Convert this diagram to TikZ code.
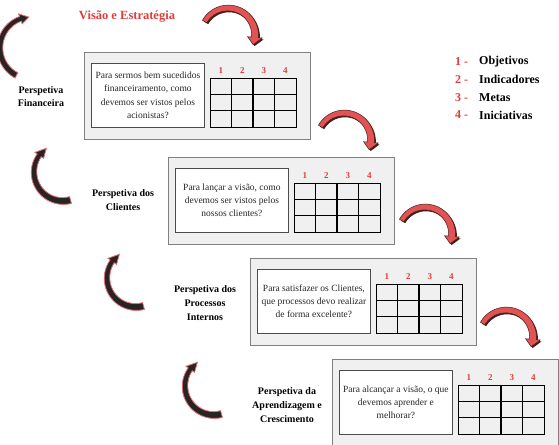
\documentclass[tikz,border=0pt]{standalone}
\usepackage{fontspec}
\setmainfont{Liberation Serif}
\definecolor{panelfill}{RGB}{240,240,240}
\definecolor{panelline}{RGB}{128,128,128}
\definecolor{tred}{RGB}{228,60,60}
\definecolor{arrred}{RGB}{226,84,84}
\definecolor{arrdark}{RGB}{70,30,30}
\definecolor{ldark}{RGB}{40,36,36}
\definecolor{lglow}{RGB}{232,110,120}
\newcommand\curvarrow[9]{%
 \filldraw[#9] plot[domain=#6:#7,samples=40,variable=\t]
   ({#1+(#3+0.5*(#4+(#5-#4)*(\t-(#6))/((#7)-(#6))))*cos(\t)},{#2+(#3+0.5*(#4+(#5-#4)*(\t-(#6))/((#7)-(#6))))*sin(\t)})
   -- ({#1+(#3+1.05*#5)*cos(#7)},{#2+(#3+1.05*#5)*sin(#7)})
   -- ({#1+#3*cos(#8)},{#2+#3*sin(#8)})
   -- ({#1+(#3-1.05*#5)*cos(#7)},{#2+(#3-1.05*#5)*sin(#7)})
   -- plot[domain=#7:#6,samples=40,variable=\t]
   ({#1+(#3-0.5*(#4+(#5-#4)*(\t-(#6))/((#7)-(#6))))*cos(\t)},{#2+(#3-0.5*(#4+(#5-#4)*(\t-(#6))/((#7)-(#6))))*sin(\t)})
   -- cycle;}
\newcommand\rightarrowbsc[2]{%
 \curvarrow{#1}{#2}{27}{5}{7}{-150}{5}{21}{fill=arrdark,draw=none,shift={(1.4,1.4)}}
 \curvarrow{#1}{#2}{27}{5}{7}{-150}{5}{21}{fill=arrred,draw=arrdark,line width=0.5pt}}
\newcommand\bscpanel[4]{%
  \node[panelbox,anchor=north west] (#3) at (#1,#2) {};
  \node[qbox,anchor=north west] (#3q) at (#1+7,#2+11) {};
  \node[qtext] (#3t) at (#3q.center) {#4};
  \node[gridbox,anchor=north west] (#3g) at (#1+126,#2+26) {};
  \foreach \i in {1,2,3} {\draw[gridline] (#1+126+\i*21.5,#2+26) -- ++(0,49);}
  \foreach \j in {1,2} {\draw[gridline] (#1+126,#2+26+\j*16.33) -- ++(86,0);}
  \foreach \i in {1,...,4} {\node[num] (#3n\i) at (#1+126-10.75+\i*21.5,#2+19) {\i};}
}
\begin{document}
\begin{tikzpicture}[x=1pt,y=-1pt,
  panelbox/.style={draw=panelline,fill=panelfill,line width=1pt,minimum width=226pt,minimum height=87pt,inner sep=0},
  qbox/.style={draw=black!70,fill=white,line width=0.8pt,minimum width=113pt,minimum height=64pt,inner sep=0},
  gridbox/.style={draw=black,line width=1.1pt,minimum width=86pt,minimum height=49pt,inner sep=0},
  gridline/.style={draw=black,line width=1.1pt},
  num/.style={text=tred,font=\bfseries\fontsize{9}{10}\selectfont,inner sep=0},
  qtext/.style={font=\fontsize{9.5}{13.3}\selectfont,align=center,text=black!85,inner sep=0},
  persp/.style={font=\bfseries\fontsize{10}{13.8}\selectfont,align=center,inner sep=0},
  legnum/.style={text=tred,font=\bfseries\fontsize{12}{14}\selectfont,inner sep=0,anchor=west},
  legtxt/.style={font=\bfseries\fontsize{12}{14}\selectfont,inner sep=0,anchor=west},
  titlestyle/.style={text=tred,font=\bfseries\fontsize{12.5}{14}\selectfont,inner sep=0},
  leftarr/.style={fill=ldark,draw=lglow,line width=0.8pt}]
\useasboundingbox (0,0) rectangle (559,444);
\fill[white] (0,0) rectangle (559,444);

% title
\node[titlestyle] (title) at (127,17) {Visão e Estratégia};

% legend
\node[legnum] (l1n) at (455,62) {1 -};  \node[legtxt] (l1t) at (479,62) {Objetivos};
\node[legnum] (l2n) at (455,79.7) {2 -};  \node[legtxt] (l2t) at (479,79.7) {Indicadores};
\node[legnum] (l3n) at (455,97.4) {3 -};  \node[legtxt] (l3t) at (479,97.4) {Metas};
\node[legnum] (l4n) at (455,115) {4 -};  \node[legtxt] (l4t) at (479,115) {Iniciativas};

% panels
\bscpanel{84}{52}{pa}{Para sermos bem sucedidos\\financeiramento, como\\devemos ser vistos pelos\\acionistas?}
\bscpanel{168}{157}{pb}{Para lançar a visão, como\\devemos ser vistos pelos\\nossos clientes?}
\bscpanel{250}{258}{pc}{Para satisfazer os Clientes,\\que processos devo realizar\\de forma excelente?}
\bscpanel{332}{359}{pd}{Para alcançar a visão, o que\\devemos aprender e\\melhorar?}

% perspective labels
\node[persp] (sa) at (41,96.5) {Perspetiva\\Financeira};
\node[persp] (sb) at (123,200) {Perspetiva dos\\Clientes};
\node[persp] (sc) at (205,303) {Perspetiva dos\\Processos\\Internos};
\node[persp] (sd) at (287,405) {Perspetiva da\\Aprendizagem e\\Crescimento};

% right-hand red arrows
\rightarrowbsc{228}{35}
\rightarrowbsc{344}{140}
\rightarrowbsc{425}{234}
\rightarrowbsc{506}{337}

% left-hand dark arrows
\curvarrow{31}{48}{31}{6}{5}{118}{250}{266}{leftarr}
\curvarrow{63}{172}{29}{7}{5}{75}{215}{235}{leftarr}
\curvarrow{136}{278}{29}{7}{5}{75}{215}{235}{leftarr}
\curvarrow{214}{386}{29}{7}{5}{75}{215}{235}{leftarr}
\end{tikzpicture}
\end{document}
